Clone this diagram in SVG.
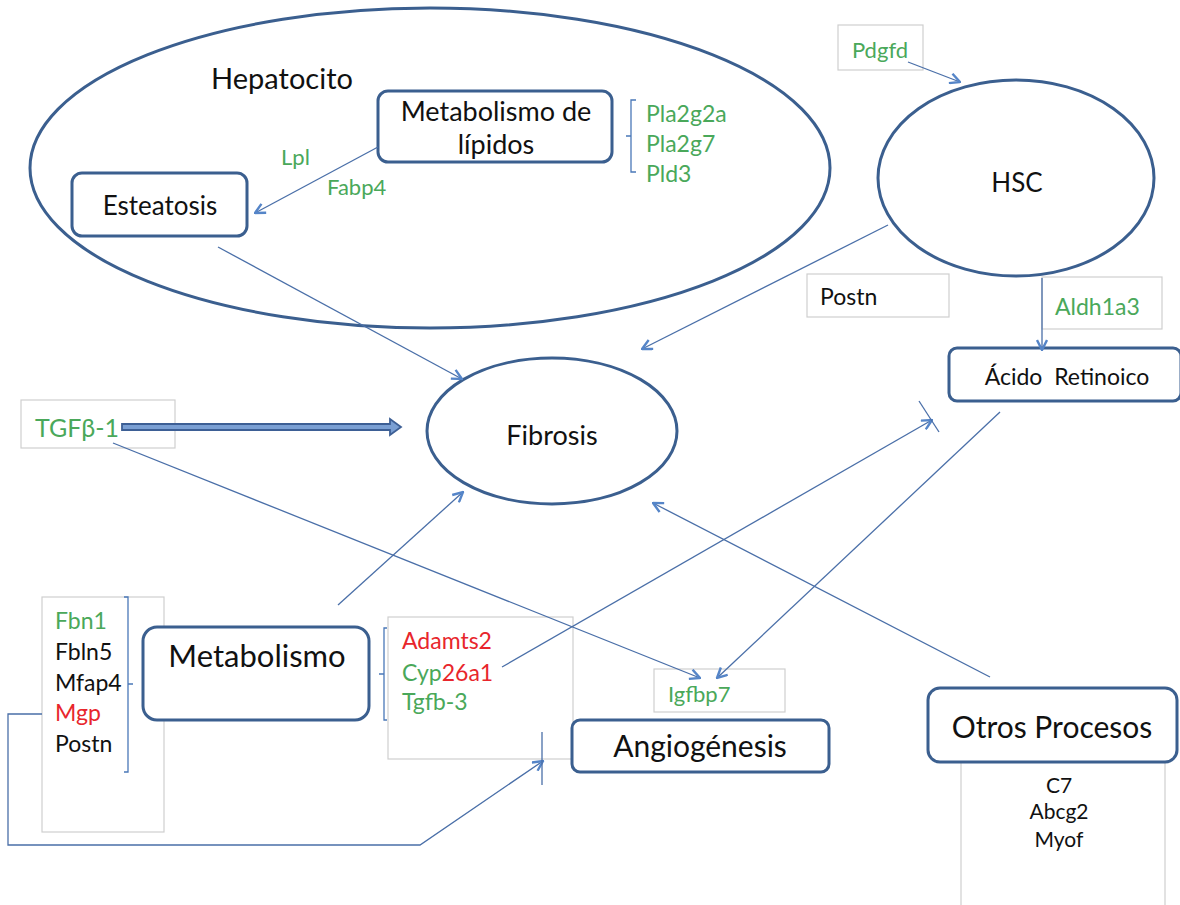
<svg xmlns="http://www.w3.org/2000/svg" width="1180" height="905" viewBox="0 0 1180 905">
<defs>
<style>
text{font-family:Lato,"Open Sans","Liberation Sans",sans-serif;fill:#111}
.n{fill:#fff;stroke:#3b5f8f;stroke-width:3}
.g{fill:#fff;stroke:#cfcfcf;stroke-width:1.2}
.c{fill:none;stroke:#4a6fa8;stroke-width:1.3}
.a{marker-end:url(#ah)}
.gr{fill:#4aa85a}
.rd{fill:#e8262c}
.br{fill:none;stroke:#4a78b8;stroke-width:1.3}
</style>
<marker id="ah" viewBox="0 0 12 12" refX="11" refY="6" markerWidth="12" markerHeight="12" markerUnits="userSpaceOnUse" orient="auto">
<path d="M1,1 L11,6 L1,11" fill="none" stroke="#5585c8" stroke-width="2.4"/>
</marker>
</defs>
<rect width="1180" height="905" fill="#fff"/>

<g id="hepatocito">
<ellipse class="n" cx="430" cy="168" rx="400" ry="160"/>
<text x="282" y="89" font-size="29" text-anchor="middle">Hepatocito</text>
</g>
<g id="metab-lipidos">
<rect class="n" x="378" y="91" width="234" height="71" rx="10"/>
<text x="496" y="121" font-size="27" text-anchor="middle">Metabolismo de</text>
<text x="496" y="154" font-size="27" text-anchor="middle">lípidos</text>
<path class="br" d="M636,100 H631 V172 H636 M631,136 H626"/>
<text x="646" y="122" font-size="23" class="gr">Pla2g2a</text>
<text x="646" y="152" font-size="23" class="gr">Pla2g7</text>
<text x="646" y="182" font-size="23" class="gr">Pld3</text>
</g>
<g id="esteatosis">
<rect class="n" x="72" y="173" width="175" height="63" rx="10"/>
<text x="160" y="215" font-size="26" text-anchor="middle">Esteatosis</text>
</g>
<g id="lpl-labels">
<text x="281" y="165" font-size="22" class="gr">Lpl</text>
<text x="327" y="195" font-size="22" class="gr">Fabp4</text>
</g>
<g id="hsc">
<ellipse class="n" cx="1016" cy="178" rx="138" ry="98"/>
<text x="1017" y="192" font-size="26" text-anchor="middle">HSC</text>
</g>
<g id="pdgfd">
<rect class="g" x="838" y="25" width="85" height="45"/>
<text x="852" y="58" font-size="22" class="gr">Pdgfd</text>
</g>
<g id="postn">
<rect class="g" x="807" y="274" width="142" height="43"/>
<text x="820" y="305" font-size="23">Postn</text>
</g>
<g id="aldh1a3">
<rect class="g" x="1042" y="277" width="120" height="52"/>
<text x="1055" y="315" font-size="23" class="gr">Aldh1a3</text>
</g>
<g id="acido">
<rect class="n" x="949" y="348" width="232" height="53" rx="8"/>
<text x="1067" y="385" font-size="23" text-anchor="middle" xml:space="preserve">Ácido  Retinoico</text>
</g>
<g id="fibrosis">
<ellipse class="n" cx="552" cy="431" rx="125" ry="73"/>
<text x="552" y="445" font-size="27" text-anchor="middle">Fibrosis</text>
</g>
<g id="tgfb1">
<rect class="g" x="21" y="400" width="154" height="48"/>
<text x="35" y="437" font-size="25" class="gr">TGFβ-1</text>
</g>
<g id="lista-izq">
<rect class="g" x="42" y="597" width="122" height="235"/>
<text x="55" y="629" font-size="23" class="gr">Fbn1</text>
<text x="55" y="660" font-size="23">Fbln5</text>
<text x="55" y="691" font-size="23">Mfap4</text>
<text x="55" y="721" font-size="23" class="rd">Mgp</text>
<text x="55" y="752" font-size="23">Postn</text>
<path class="br" d="M124,597 H128 V772 H124 M128,684 H133"/>
</g>
<g id="metabolismo">
<rect class="n" x="143" y="627" width="226" height="93" rx="14"/>
<text x="257" y="667" font-size="31" text-anchor="middle">Metabolismo</text>
</g>
<g id="lista-der">
<rect class="g" x="388" y="617" width="185" height="142"/>
<path class="br" d="M387,628 H384 V720 H387 M384,674 H379"/>
<text x="402" y="649" font-size="23" class="rd">Adamts2</text>
<text x="402" y="681" font-size="23"><tspan class="gr">Cyp</tspan><tspan class="rd">26a1</tspan></text>
<text x="402" y="710" font-size="23" class="gr">Tgfb-3</text>
</g>
<g id="igfbp7">
<rect class="g" x="654" y="669" width="131" height="43"/>
<text x="668" y="702" font-size="22" class="gr">Igfbp7</text>
</g>
<g id="angiogenesis">
<rect class="n" x="572" y="720" width="257" height="52" rx="8"/>
<text x="700" y="757" font-size="30" text-anchor="middle">Angiogénesis</text>
</g>
<g id="otros">
<rect class="g" x="961" y="760" width="204" height="150"/>
<rect class="n" x="928" y="688" width="249" height="74" rx="12"/>
<text x="1052" y="738" font-size="30" text-anchor="middle">Otros Procesos</text>
<text x="1059" y="793" font-size="21" text-anchor="middle">C7</text>
<text x="1059" y="819" font-size="21" text-anchor="middle">Abcg2</text>
<text x="1059" y="847" font-size="21" text-anchor="middle">Myof</text>
</g>

<g id="connectors">
<line class="c a" x1="378" y1="147" x2="255" y2="213"/>
<line class="c a" x1="218" y1="247" x2="462" y2="379"/>
<line class="c a" x1="908" y1="62" x2="960" y2="82"/>
<line class="c a" x1="888" y1="225" x2="642" y2="349"/>
<line class="c a" x1="1042" y1="278" x2="1042" y2="350"/>
<polygon points="122,424 390,424 390,419 401,427 390,435 390,430 122,430" fill="#7a9fd3" stroke="#3d5f95" stroke-width="1.8"/>
<line class="c a" x1="113" y1="443" x2="700" y2="678"/>
<line class="c a" x1="338" y1="605" x2="463" y2="492"/>
<line class="c a" x1="502" y1="667" x2="932" y2="420"/>
<line class="c" x1="919" y1="401" x2="939" y2="432"/>
<line class="c a" x1="1000" y1="412" x2="717" y2="678"/>
<line class="c a" x1="990" y1="677" x2="653" y2="503"/>
<path class="c a" d="M42,714 H8 V845 H420 L543,761"/>
<line class="c" x1="542" y1="732" x2="542" y2="785"/>
</g>
</svg>
